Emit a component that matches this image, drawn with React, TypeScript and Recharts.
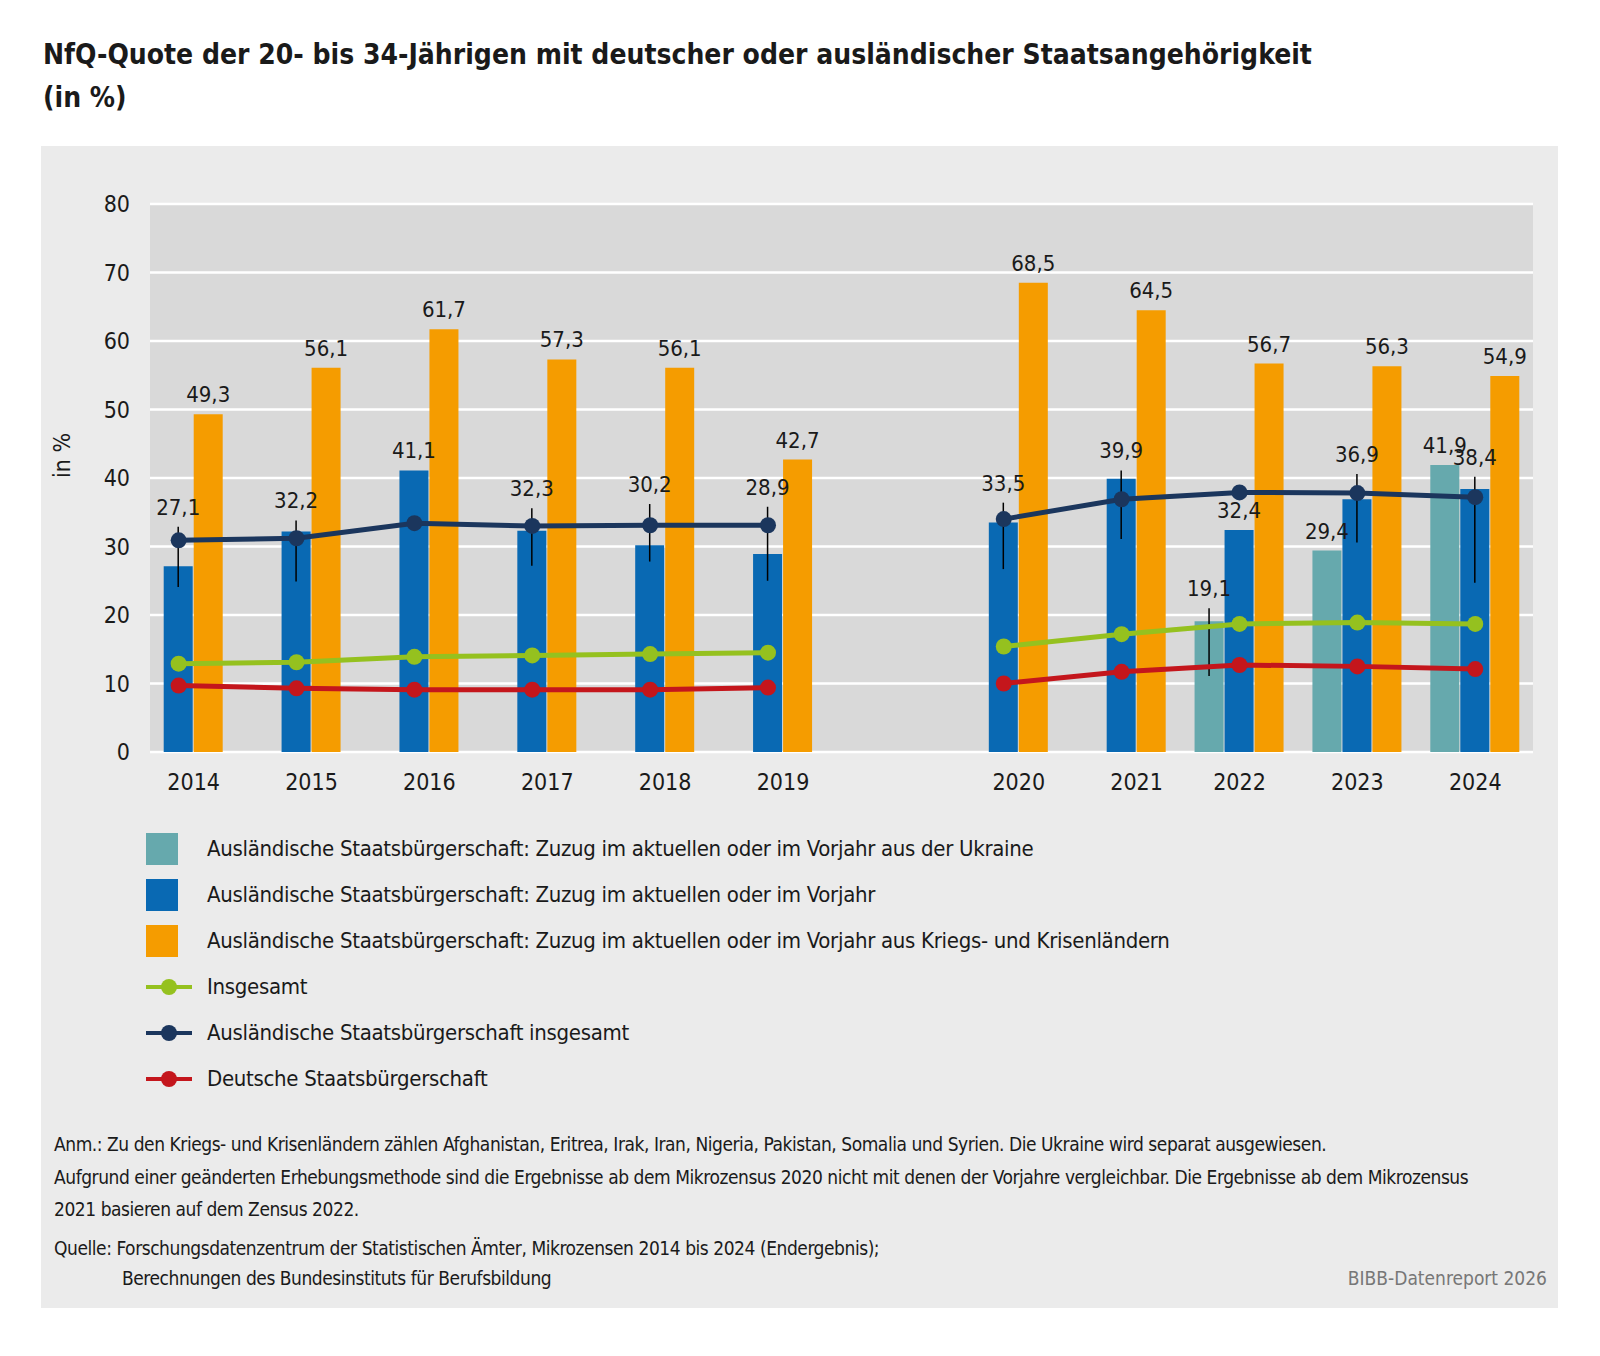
import { ComposedChart, Bar, Line, XAxis, YAxis, CartesianGrid, ErrorBar, LabelList } from "recharts";

const years = [2014, 2015, 2016, 2017, 2018, 2019, 2020, 2021, 2022, 2023, 2024];
const slots = [0, 1, 2, 3, 4, 5, 7, 8, 9, 10, 11];
const ukraine = [null, null, null, null, null, null, null, null, 19.1, 29.4, 41.9];
const zuzug = [27.1, 32.2, 41.1, 32.3, 30.2, 28.9, 33.5, 39.9, 32.4, 36.9, 38.4];
const krisen = [49.3, 56.1, 61.7, 57.3, 56.1, 42.7, 68.5, 64.5, 56.7, 56.3, 54.9];
const insgesamt = [12.9, 13.1, 13.9, 14.1, 14.3, 14.5, 15.4, 17.2, 18.7, 18.9, 18.7];
const auslInsg = [30.9, 31.2, 33.4, 33.0, 33.1, 33.1, 34.0, 36.9, 37.9, 37.8, 37.2];
const deutsche = [9.7, 9.3, 9.1, 9.1, 9.1, 9.4, 10.0, 11.7, 12.7, 12.5, 12.1];
// confidence ranges drawn as thin black lines [low, high]
const zuzugRange = [[24.1, 32.9], [24.9, 33.8], null, [27.2, 35.6], [27.8, 36.2], [25.0, 35.8], [26.7, 36.4], [31.1, 41.1], null, [30.6, 40.6], [24.7, 40.2]];
const ukraineRange = [null, null, null, null, null, null, null, null, [11.1, 21.0], null, null];
const yTicks = [0, 10, 20, 30, 40, 50, 60, 70, 80];

const C = { teal: "#66a9ad", blue: "#0969b3", orange: "#f59c00", green: "#95c11f", navy: "#1b365d", red: "#c4161c" };
const FONT = "'DejaVu Sans Condensed', 'DejaVu Sans', sans-serif";

const CH_W = 1600, CH_H = 800, M_TOP = 204, M_BOT = 8, X_H = 40;
const PX_PER = (CH_H - M_TOP - M_BOT - X_H) / 80;

const rows = years.map((y, i) => ({
  x: slots[i],
  year: y,
  ukraine: ukraine[i],
  zuzug: zuzug[i],
  krisen: krisen[i],
  insgesamt: insgesamt[i],
  auslInsg: auslInsg[i],
  deutsche: deutsche[i],
  zuzugErr: zuzugRange[i] ? [zuzug[i] - zuzugRange[i]![0], zuzugRange[i]![1] - zuzug[i]] : [0, 0],
  ukraineErr: ukraineRange[i] && ukraine[i] != null ? [ukraine[i]! - ukraineRange[i]![0], ukraineRange[i]![1] - ukraine[i]!] : [0, 0],
}));
// empty slot between 2019 and 2020 breaks the lines (method change)
const data = [...rows.slice(0, 6), { x: 6, year: null, ukraine: null, zuzug: null, krisen: null, insgesamt: null, auslInsg: null, deutsche: null, zuzugErr: [0, 0], ukraineErr: [0, 0] }, ...rows.slice(6)];

const fmt = (v: number) => v.toFixed(1).replace(".", ",");

const makeLabel = (values: (number | null)[], ranges: (number[] | null)[]) => (props: any) => {
  const { x, y, width, value } = props;
  if (value == null) return null;
  const ri = values.findIndex((v) => v === value);
  const r = ri >= 0 ? ranges[ri] : null;
  let top = y;
  if (r && r[1] > value) top = y - (r[1] - value) * PX_PER;
  return (
    <text x={x + width / 2} y={top - 12} textAnchor="middle" fontSize={22} fill="#1a1a1a" fontFamily={FONT}>
      {fmt(value)}
    </text>
  );
};

const XTick = (props: any) => {
  const { x, y, payload } = props;
  const i = slots.indexOf(payload.value);
  if (i < 0) return null;
  const yr = years[i];
  const dx = yr < 2022 ? 15 : 0;
  return (
    <text x={x + dx} y={y + 30} textAnchor="middle" fontSize={23} fill="#1a1a1a" fontFamily={FONT}>
      {yr}
    </text>
  );
};

const legend = [
  { t: "bar", c: C.teal, l: "Ausländische Staatsbürgerschaft: Zuzug im aktuellen oder im Vorjahr aus der Ukraine" },
  { t: "bar", c: C.blue, l: "Ausländische Staatsbürgerschaft: Zuzug im aktuellen oder im Vorjahr" },
  { t: "bar", c: C.orange, l: "Ausländische Staatsbürgerschaft: Zuzug im aktuellen oder im Vorjahr aus Kriegs- und Krisenländern" },
  { t: "line", c: C.green, l: "Insgesamt" },
  { t: "line", c: C.navy, l: "Ausländische Staatsbürgerschaft insgesamt" },
  { t: "line", c: C.red, l: "Deutsche Staatsbürgerschaft" },
];

export default function App() {
  return (
    <div style={{ position: "relative", width: 1600, height: 1356, margin: -8, background: "#fff", fontFamily: FONT, color: "#1a1a1a", overflow: "hidden" }}>
      <div style={{ position: "absolute", inset: 0, border: "1px solid #d0d0d0" }} />
      <div style={{ position: "absolute", left: 43, top: 33, fontSize: 28, fontWeight: 700, lineHeight: "43px" }}>
        NfQ-Quote der 20- bis 34-Jährigen mit deutscher oder ausländischer Staatsangehörigkeit
        <br />
        (in %)
      </div>
      <div style={{ position: "absolute", left: 41, top: 146, width: 1517, height: 1162, background: "#ebebeb" }} />
      <div style={{ position: "absolute", left: 0, top: 0 }}>
        <ComposedChart width={CH_W} height={CH_H} data={data} margin={{ top: M_TOP, right: 67, bottom: M_BOT, left: 0 }} barSize={29} barGap={1}>
          <CartesianGrid vertical={false} fill="#d9d9d9" stroke="#ffffff" strokeWidth={2.5} />
          <XAxis dataKey="x" type="number" domain={[-0.243, 11.49]} ticks={slots} tick={<XTick />} axisLine={false} tickLine={false} height={X_H} interval={0} />
          <YAxis domain={[0, 80]} ticks={yTicks} width={150} axisLine={false} tickLine={false} tickSize={0} tickMargin={20}
            tick={{ fontSize: 23, fill: "#1a1a1a", fontFamily: FONT }}
            label={{ value: "in %", angle: -90, position: "insideLeft", offset: 62, style: { fontSize: 23, fill: "#1a1a1a", fontFamily: FONT } }} />
          <Bar dataKey="ukraine" fill={C.teal} isAnimationActive={false}>
            <ErrorBar dataKey="ukraineErr" width={0} stroke="#000" strokeWidth={1.5} direction="y" />
            <LabelList dataKey="ukraine" content={makeLabel(ukraine, ukraineRange)} />
          </Bar>
          <Bar dataKey="zuzug" fill={C.blue} isAnimationActive={false}>
            <ErrorBar dataKey="zuzugErr" width={0} stroke="#000" strokeWidth={1.5} direction="y" />
            <LabelList dataKey="zuzug" content={makeLabel(zuzug, zuzugRange)} />
          </Bar>
          <Bar dataKey="krisen" fill={C.orange} isAnimationActive={false}>
            <LabelList dataKey="krisen" content={makeLabel(krisen, krisen.map(() => null))} />
          </Bar>
          {[["insgesamt", C.green], ["auslInsg", C.navy], ["deutsche", C.red]].map(([k, c]) => (
            <Line key={k} dataKey={k} stroke={c} strokeWidth={5} dot={{ r: 8, fill: c, stroke: c, strokeWidth: 0 }} isAnimationActive={false} connectNulls={false} />
          ))}
        </ComposedChart>
      </div>
      {legend.map((e, i) => (
        <div key={i} style={{ position: "absolute", left: 146, top: 849 + i * 46 - 16, height: 32, display: "flex", alignItems: "center" }}>
          {e.t === "bar" ? (
            <div style={{ width: 32, height: 32, background: e.c }} />
          ) : (
            <svg width={46} height={32}><line x1={0} y1={16} x2={46} y2={16} stroke={e.c} strokeWidth={4} /><circle cx={23} cy={16} r={8} fill={e.c} /></svg>
          )}
          <div style={{ position: "absolute", left: 61, top: 0, fontSize: 22, lineHeight: "32px", whiteSpace: "nowrap", letterSpacing: -0.3 }}>{e.l}</div>
        </div>
      ))}
      <div style={{ position: "absolute", left: 54, top: 1128, fontSize: 19, lineHeight: "32.6px", whiteSpace: "nowrap", letterSpacing: -0.45 }}>
        Anm.: Zu den Kriegs- und Krisenländern zählen Afghanistan, Eritrea, Irak, Iran, Nigeria, Pakistan, Somalia und Syrien. Die Ukraine wird separat ausgewiesen.
        <br />
        Aufgrund einer geänderten Erhebungsmethode sind die Ergebnisse ab dem Mikrozensus 2020 nicht mit denen der Vorjahre vergleichbar. Die Ergebnisse ab dem Mikrozensus
        <br />
        2021 basieren auf dem Zensus 2022.
      </div>
      <div style={{ position: "absolute", left: 54, top: 1233, fontSize: 19, lineHeight: "30px", whiteSpace: "nowrap", letterSpacing: -0.45 }}>
        Quelle: Forschungsdatenzentrum der Statistischen Ämter, Mikrozensen 2014 bis 2024 (Endergebnis);
        <br />
        <span style={{ paddingLeft: 68 }}>Berechnungen des Bundesinstituts für Berufsbildung</span>
      </div>
      <div style={{ position: "absolute", right: 53, top: 1263, fontSize: 19, lineHeight: "30px", color: "#777" }}>BIBB-Datenreport 2026</div>
    </div>
  );
}
